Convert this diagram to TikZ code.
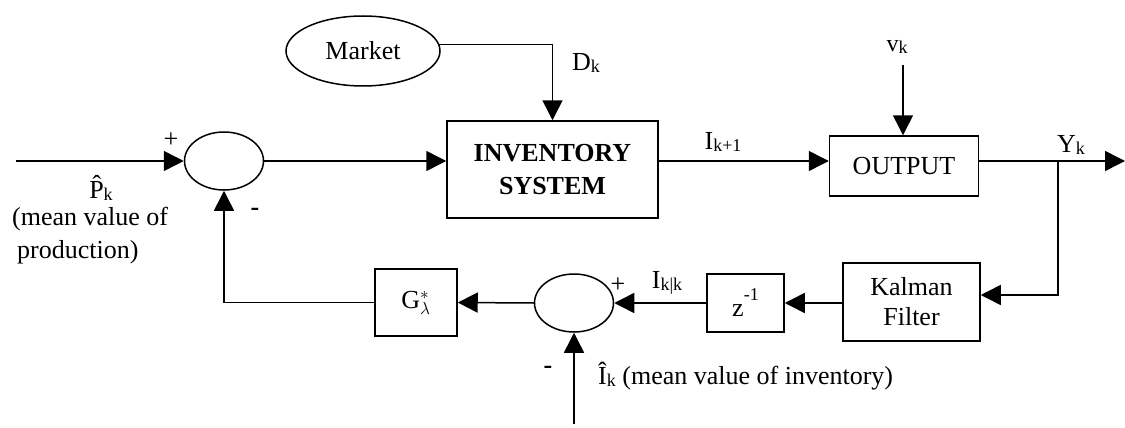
\documentclass[tikz,border=0pt]{standalone}
\usepackage{fontspec}
\setmainfont{Liberation Serif}
\usetikzlibrary{arrows.meta,shapes.geometric,calc}
\newcommand{\sbs}[1]{\raisebox{-2pt}{\fontsize{18}{18}\selectfont #1}}
\begin{document}
\begin{tikzpicture}[x=1pt,y=-1pt,
  every node/.style={font=\fontsize{26}{33}\selectfont},
  block/.style={draw,line width=1.5pt,rectangle,inner sep=0pt},
  summer/.style={draw,line width=1.5pt,ellipse,inner sep=0pt,minimum width=79pt,minimum height=58pt},
  conn/.style={line width=1.5pt},
  arr/.style={line width=1.5pt,-{Triangle[length=20pt,width=20pt]}},
  lbl/.style={inner sep=0pt}]
\useasboundingbox (0,0) rectangle (1125,428);
% nodes
\node[summer] (sum1) at (224,161) {};
\node[summer] (sum2) at (574,303) {};
\node[draw,line width=1.5pt,ellipse,inner sep=0pt,minimum width=154pt,minimum height=70pt] (market) at (363,51) {Market};
\node[block,minimum width=211pt,minimum height=97pt,align=center,font=\fontsize{26}{33}\selectfont\bfseries] (inv) at (552.5,169.5) {INVENTORY\\SYSTEM};
\node[block,minimum width=149pt,minimum height=60pt] (out) at (904,166) {OUTPUT};
\node[block,minimum width=137pt,minimum height=78pt,align=center,font=\fontsize{26}{30}\selectfont] (kal) at (911.5,302) {Kalman\\Filter};
\node[block,minimum width=77pt,minimum height=58pt] (zb) at (745.5,303) {\raisebox{-4pt}{z}\raisebox{12pt}{\fontsize{18}{18}\selectfont -1}};
\node[block,minimum width=82pt,minimum height=67pt] (gb) at (416,302.5) {$\mathrm{G}^{*}_{\lambda}$};
% coordinates
\coordinate (in) at (16,161);
\coordinate (vtop) at (903,65);
\coordinate (yj) at (1058,161);
\coordinate (yend) at (1125,161);
\coordinate (ib) at (574,424);
% labels
\node[lbl] (lplus1) at (171,140) {+};
\node[lbl] (lminus1) at (255,212) {\textbf{-}};
\node[lbl] (lp) at (101,188) {\^{P}\sbs{k}};
\node[lbl,anchor=north west,align=left] (lpdesc) at (12,207) {(mean value of\\\hspace*{5pt}production)};
\node[lbl] (ld) at (586,63) {D\sbs{k}};
\node[lbl] (lik1) at (723,142) {I\sbs{k+1}};
\node[lbl,font=\fontsize{24}{24}\selectfont] (lv) at (897,47) {v\sbs{k}};
\node[lbl] (ly) at (1071,145) {Y\sbs{k}};
\node[lbl] (lplus2) at (618,285) {+};
\node[lbl] (likk) at (667,283) {I\sbs{k|k}};
\node[lbl] (lminus2) at (548,370) {\textbf{-}};
\node[lbl,anchor=west] (lih) at (598,376) {\^{I}\sbs{k} (mean value of inventory)};
% connectors
\draw[arr] (in) -- (sum1.west);
\draw[arr] (sum1.east) -- (sum1.east -| inv.west);
\draw[arr] (market.5) -| (inv.north);
\draw[arr] (inv.east |- sum1.east) -- (out.west |- sum1.east);
\draw[arr] (vtop) -- (vtop |- out.north);
\draw[conn] (out.east |- yj) -- (yj);
\draw[arr] (yj) -- (yend);
\draw[arr] (yj) |- ($(kal.east)+(0,-7)$);
\draw[arr] (kal.west |- zb.east) -- (zb.east);
\draw[arr] (zb.west) -- (sum2.east);
\draw[arr] (sum2.west) -- (gb.east);
\draw[arr] (gb.west) -| (sum1.south);
\draw[arr] (ib) -- (sum2.south);
\end{tikzpicture}
\end{document}
